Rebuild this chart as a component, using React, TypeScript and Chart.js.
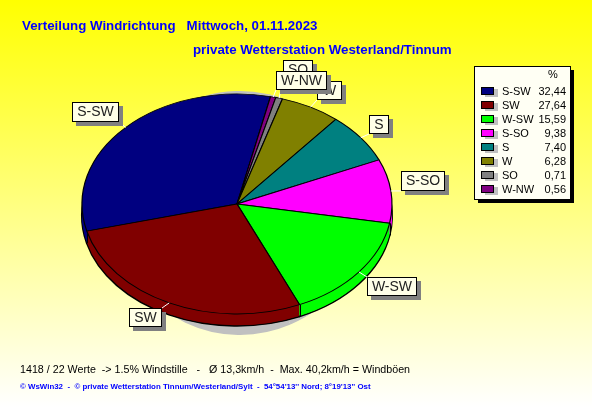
import React, { useEffect, useRef } from "react";
import { Chart, registerables } from "chart.js";

Chart.register(...registerables);

const CATEGORIES = ["S-SW", "SW", "W-SW", "S-SO", "S", "W", "SO", "W-NW"];
const VALUES = [32.44, 27.64, 15.59, 9.38, 7.4, 6.28, 0.71, 0.56];
const COLORS = ["#000080", "#800000", "#00ff00", "#ff00ff", "#008080", "#808000", "#808080", "#800080"];

const TITLE_1 = "Verteilung Windrichtung   Mittwoch, 01.11.2023";
const TITLE_2 = "private Wetterstation Westerland/Tinnum";
const FOOTER_1 = "1418 / 22 Werte  -> 1.5% Windstille   -   Ø 13,3km/h  -  Max. 40,2km/h = Windböen";
const FOOTER_2 = "© WsWin32  -  © private Wetterstation Tinnum/Westerland/Sylt  -  54°54'13'' Nord; 8°19'13'' Ost";

// label boxes [left, top, right, bottom], same order as CATEGORIES
const LABEL_BOXES = [
  [72, 102, 119, 122],
  [129, 308, 162, 327],
  [367, 277, 417, 296],
  [401, 171, 445, 191],
  [369, 115, 389, 134],
  [317, 81, 342, 100],
  [283, 60, 313, 79],
  [276, 71, 327, 90],
];

const START_DEG = 255.7;
const CX = 237;
const CY = 204;
const RX = 155;
const RY = 110;
const DEPTH = 12;

const SANS = '"Liberation Sans", Arial, sans-serif';
const fmt = (v: number) => v.toFixed(2).replace(".", ",");

// slices run clockwise with the smaller ones first after the biggest
const ORDER = [0, 7, 6, 5, 4, 3, 2, 1];

function patched(arc: any, over: any, fn: () => void) {
  const orig = arc.options;
  arc.options = { ...orig, ...over };
  fn();
  arc.options = orig;
}

function inEllipse(ctx: CanvasRenderingContext2D, arc: any, cx: number, cy: number, rx: number, ry: number, fn: () => void) {
  ctx.save();
  ctx.translate(cx, cy);
  ctx.scale(rx / arc.outerRadius, ry / arc.outerRadius);
  ctx.translate(-arc.x, -arc.y);
  fn();
  ctx.restore();
}

const piePlugin = {
  id: "pie3d",
  beforeDraw(chart: any) {
    const { ctx, width, height } = chart;
    const g = ctx.createLinearGradient(0, 0, 0, height);
    g.addColorStop(0, "#ffff00");
    g.addColorStop(1, "#ffffff");
    ctx.fillStyle = g;
    ctx.fillRect(0, 0, width, height);
  },
  beforeDatasetDraw(chart: any, args: any) {
    const ctx = chart.ctx as CanvasRenderingContext2D;
    const arcs = chart.getDatasetMeta(args.index).data as any[];
    const a0 = arcs[0];
    // drop shadow
    inEllipse(ctx, a0, 240, 213, 125, 122, () => {
      arcs.forEach((a) => patched(a, { backgroundColor: "#c0c0c0", borderWidth: 0 }, () => a.draw(ctx)));
    });
    // rim
    inEllipse(ctx, a0, CX, CY + DEPTH, RX, RY, () => {
      arcs.forEach((a) => patched(a, { borderWidth: 2 }, () => a.draw(ctx)));
    });
    for (let d = DEPTH - 1; d >= 1; d--) {
      inEllipse(ctx, a0, CX, CY + d, RX, RY, () => {
        arcs.forEach((a) => patched(a, { borderWidth: 0 }, () => a.draw(ctx)));
      });
    }
    // vertical edges between the slices on the near side
    ctx.strokeStyle = "#000000";
    ctx.lineWidth = 1;
    arcs.forEach((a) => {
      if (Math.sin(a.startAngle) > 0) {
        const x = Math.round(CX + RX * Math.cos(a.startAngle)) + 0.5;
        const y = CY + RY * Math.sin(a.startAngle);
        ctx.beginPath();
        ctx.moveTo(x, y);
        ctx.lineTo(x, y + DEPTH);
        ctx.stroke();
      }
    });
    // top face
    ctx.save();
    ctx.translate(CX, CY);
    ctx.scale(RX / a0.outerRadius, RY / a0.outerRadius);
    ctx.translate(-a0.x, -a0.y);
    return true;
  },
  afterDatasetDraw(chart: any) {
    chart.ctx.restore();
  },
  afterDraw(chart: any) {
    const ctx = chart.ctx as CanvasRenderingContext2D;
    const arcs = chart.getDatasetMeta(0).data as any[];

    // titles and footers
    ctx.textBaseline = "alphabetic";
    ctx.textAlign = "left";
    ctx.fillStyle = "#0000ff";
    ctx.font = `bold 13.3px ${SANS}`;
    ctx.fillText(TITLE_1, 22, 30);
    ctx.fillText(TITLE_2, 193, 54);
    ctx.fillStyle = "#000000";
    ctx.font = `10.7px ${SANS}`;
    ctx.fillText(FOOTER_1, 20, 373);
    ctx.fillStyle = "#0000ff";
    ctx.font = `bold 7.9px ${SANS}`;
    ctx.fillText(FOOTER_2, 20, 389);

    // callouts
    CATEGORIES.forEach((name, i) => {
      const arc = arcs[ORDER.indexOf(i)];
      const [l, t, r, b] = LABEL_BOXES[i];
      const mid = (arc.startAngle + arc.endAngle) / 2;
      const ax = CX + RX * Math.cos(mid);
      const ay = CY + RY * Math.sin(mid);
      ctx.strokeStyle = "#ffffff";
      ctx.lineWidth = 1;
      ctx.beginPath();
      ctx.moveTo(ax, ay);
      ctx.lineTo(Math.min(r, Math.max(l, ax)), Math.min(b, Math.max(t, ay)));
      ctx.stroke();
      ctx.fillStyle = "#808080";
      ctx.fillRect(l + 4, t + 4, r - l, b - t);
      ctx.fillStyle = "#ffffe8";
      ctx.fillRect(l, t, r - l, b - t);
      ctx.strokeStyle = "#000000";
      ctx.strokeRect(l + 0.5, t + 0.5, r - l - 1, b - t - 1);
      ctx.fillStyle = "#222222";
      ctx.font = `14px ${SANS}`;
      ctx.textAlign = "center";
      ctx.textBaseline = "middle";
      ctx.fillText(name, (l + r) / 2, (t + b) / 2 + 0.5);
    });

    // legend
    ctx.fillStyle = "#000000";
    ctx.fillRect(478, 70, 96, 133);
    ctx.fillStyle = "#fffff4";
    ctx.fillRect(474, 66, 97, 134);
    ctx.strokeStyle = "#000000";
    ctx.lineWidth = 1;
    ctx.strokeRect(474.5, 66.5, 96, 133);
    ctx.font = `11px ${SANS}`;
    ctx.textBaseline = "middle";
    ctx.textAlign = "center";
    ctx.fillStyle = "#000000";
    ctx.fillText("%", 553, 75);
    CATEGORIES.forEach((name, i) => {
      const y = 91 + i * 14;
      ctx.fillStyle = "#c0c0c0";
      ctx.fillRect(485, y - 2, 13, 8);
      ctx.fillStyle = COLORS[i];
      ctx.fillRect(481, y - 4, 13, 8);
      ctx.strokeStyle = "#000000";
      ctx.strokeRect(481.5, y - 3.5, 12, 7);
      ctx.fillStyle = "#000000";
      ctx.textAlign = "left";
      ctx.fillText(name, 502, y + 0.5);
      ctx.textAlign = "right";
      ctx.fillText(fmt(VALUES[i]), 566, y + 0.5);
    });
  },
};

export default function App() {
  const ref = useRef<HTMLCanvasElement>(null);
  useEffect(() => {
    document.body.style.margin = "0";
    const chart = new Chart(ref.current as HTMLCanvasElement, {
      type: "pie",
      data: {
        labels: ORDER.map((i) => CATEGORIES[i]),
        datasets: [
          {
            data: ORDER.map((i) => VALUES[i]),
            backgroundColor: ORDER.map((i) => COLORS[i]),
            borderColor: "#000000",
            borderWidth: 1.2,
            clip: false as any,
          },
        ],
      },
      options: {
        animation: false,
        responsive: false,
        devicePixelRatio: 1,
        rotation: START_DEG,
        radius: RX,
        layout: { padding: { left: 0, right: 118, top: 0, bottom: 0 } },
        plugins: { legend: { display: false }, tooltip: { enabled: false }, title: { display: false } },
      } as any,
      plugins: [piePlugin as any],
    });
    return () => chart.destroy();
  }, []);
  return <canvas ref={ref} width={592} height={407} style={{ display: "block" }} />;
}
